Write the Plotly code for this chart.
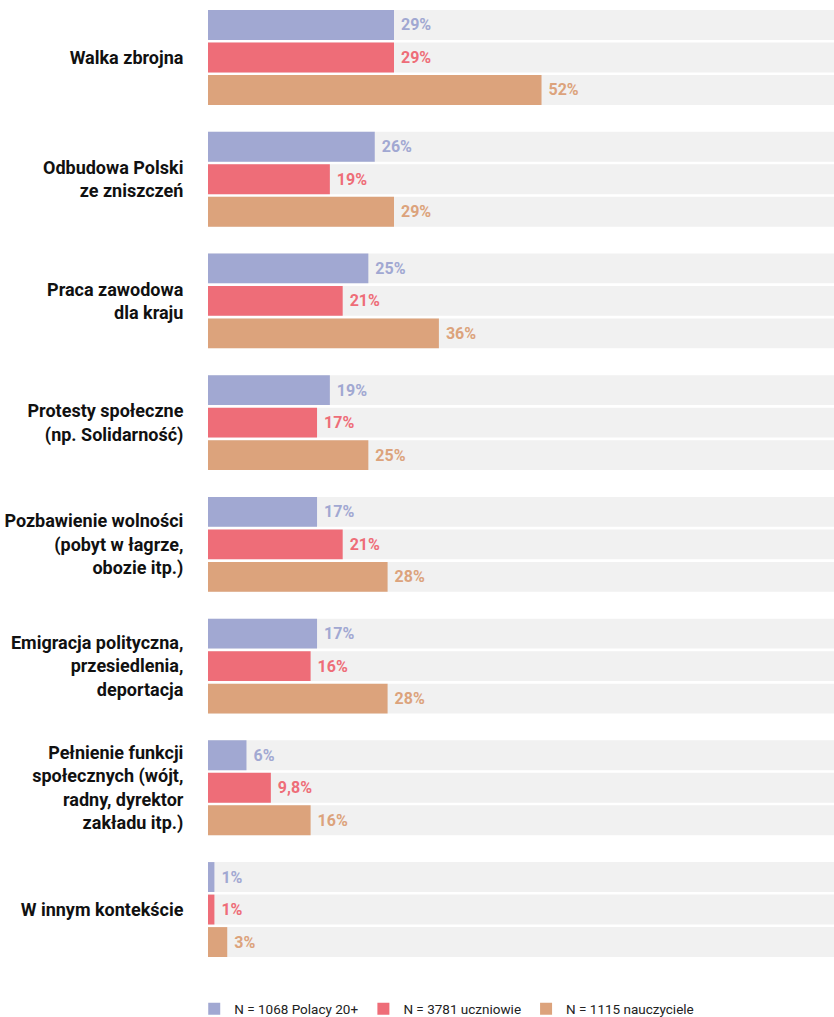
import plotly.graph_objects as go

categories = [
    "Walka zbrojna",
    "Odbudowa Polski<br>ze zniszczeń",
    "Praca zawodowa<br>dla kraju",
    "Protesty społeczne<br>(np. Solidarność)",
    "Pozbawienie wolności<br>(pobyt w łagrze,<br>obozie itp.)",
    "Emigracja polityczna,<br>przesiedlenia,<br>deportacja",
    "Pełnienie funkcji<br>społecznych (wójt,<br>radny, dyrektor<br>zakładu itp.)",
    "W innym kontekście",
]
series_names = ["N = 1068 Polacy 20+", "N = 3781 uczniowie", "N = 1115 nauczyciele"]
polacy = [29, 26, 25, 19, 17, 17, 6, 1]
uczniowie = [29, 19, 21, 17, 21, 16, 9.8, 1]
nauczyciele = [52, 29, 36, 25, 28, 28, 16, 3]
series_values = [polacy, uczniowie, nauczyciele]
colors = ["#A1A8D2", "#EE6D78", "#DCA37C"]
bg_color = "#F1F1F1"
full_scale = 100

FONT = "Roboto, Liberation Sans, sans-serif"
GROUP_PITCH = 3.745
BAR_W = 0.92

def pos(g, k):
    return g * GROUP_PITCH + k

fig = go.Figure()

all_pos = [pos(g, k) for g in range(len(categories)) for k in range(3)]
fig.add_trace(go.Bar(
    x=[full_scale] * len(all_pos), y=all_pos, orientation="h",
    marker=dict(color=bg_color, line=dict(width=0)), width=BAR_W,
    showlegend=False, hoverinfo="skip",
))

def fmt(v):
    s = f"{v:g}".replace(".", ",")
    return "\u00a0" + s + "%"

for k, (name, vals, col) in enumerate(zip(series_names, series_values, colors)):
    fig.add_trace(go.Bar(
        name=name,
        x=vals,
        y=[pos(g, k) for g in range(len(categories))],
        orientation="h",
        width=BAR_W,
        marker=dict(color=col, line=dict(width=0)),
        text=[fmt(v) for v in vals],
        textposition="outside",
        textfont=dict(family=FONT, size=16, color=col, weight="bold"),
        cliponaxis=False,
        hoverinfo="skip",
    ))

top = -BAR_W / 2
bottom = pos(len(categories) - 1, 2) + BAR_W / 2

fig.update_layout(
    width=834, height=1017,
    margin=dict(l=208, r=0, t=10, b=60, autoexpand=False),
    barmode="overlay",
    plot_bgcolor="white", paper_bgcolor="white",
    font=dict(family=FONT),
    xaxis=dict(range=[0, 97.6], showgrid=False, zeroline=False, automargin=False,
               showticklabels=False, ticks="", showline=False, fixedrange=True),
    yaxis=dict(range=[bottom, top], showgrid=False, zeroline=False, showline=False,
               automargin=False,
               tickvals=[pos(g, 1) for g in range(len(categories))],
               ticktext=categories, ticks="outside", ticklen=20,
               tickcolor="rgba(0,0,0,0)",
               tickfont=dict(family=FONT, size=18, color="#111111", weight="bold")),
    legend=dict(orientation="h", x=-0.022, xanchor="left", y=-0.055, yanchor="middle",
                font=dict(family=FONT, size=13.5, color="#222222"),
                itemwidth=30, traceorder="normal", bgcolor="rgba(0,0,0,0)"),
)

fig.write_html("out.html")
